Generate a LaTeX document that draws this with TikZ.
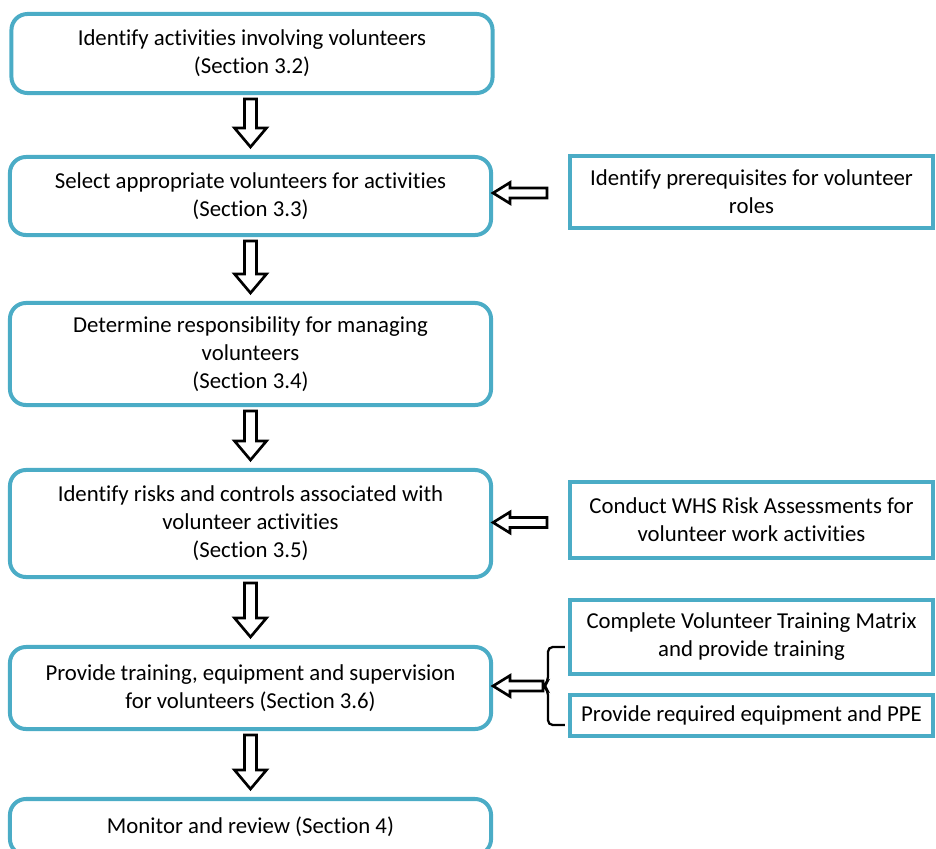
\documentclass[tikz,border=0pt]{standalone}
\usepackage{fontspec}
\setmainfont{Carlito}[Ligatures=NoCommon]
\usetikzlibrary{calc}
\definecolor{boxblue}{RGB}{75,172,198}
\tikzset{
	stepnode/.style = {align=center, inner sep=0pt, text centered, font=\fontsize{16.2}{19.9}\selectfont},
	mainbox/.style = {stepnode, draw=boxblue, line width=1mm, rounded corners=0.4cm, minimum width=12.025cm},
	sidebox/.style = {stepnode, draw=boxblue, line width=1mm, minimum width=9.075cm},
	blockarrow/.style = {draw=black, fill=white, line width=1.9pt, line join=miter},
	bracket/.style = {draw=black, line width=1.6pt, rounded corners=0.12cm}
}

\begin{document}
\begin{tikzpicture}[x=0.025cm, y=-0.025cm]
		\useasboundingbox (0,0) rectangle (936,849);
		% main steps
		\node [mainbox, minimum height=1.975cm] (b1) at (252,53.5) {Identify activities involving volunteers\\(Section 3.2)};
		\node [mainbox, minimum height=1.95cm] (b2) at (250.5,196) {Select appropriate volunteers for activities\\(Section 3.3)};
		\node [mainbox, minimum height=2.55cm] (b3) at (250.5,354) {Determine responsibility for managing\\volunteers\\(Section 3.4)};
		\node [mainbox, minimum height=2.675cm] (b4) at (250.5,523.5) {Identify risks and controls associated with\\volunteer activities\\(Section 3.5)};
		\node [mainbox, minimum height=2.05cm] (b5) at (250.5,688) {Provide training, equipment and supervision\\for volunteers (Section 3.6)};
		\node [mainbox, minimum height=1.4cm] (b6) at (250.5,827) {Monitor and review (Section 4)};
		% side tasks
		\node [sidebox, minimum height=1.8cm] (r1) at (751.5,192) {Identify prerequisites for volunteer\\roles};
		\node [sidebox, minimum height=1.9cm] (r2) at (751.5,520) {Conduct WHS Risk Assessments for\\volunteer work activities};
		\node [sidebox, minimum height=1.85cm] (r3) at (751.5,637) {Complete Volunteer Training Matrix\\and provide training};
		\node [sidebox, minimum height=1.025cm] (r4) at (751.5,715.5) {Provide required equipment and PPE};

		\foreach \a/\b in {b1/b2, b2/b3, b3/b4, b4/b5, b5/b6}
			\draw [blockarrow] ($(\b.north |- \a.south)+(-6,4)$) -- ($(\b.north)+(-6,-27)$) -- ($(\b.north)+(-16,-27)$)
				-- ($(\b.north)+(0,-8)$) -- ($(\b.north)+(16,-27)$) -- ($(\b.north)+(6,-27)$) -- ($(\b.north |- \a.south)+(6,4)$) -- cycle;

		% bracket round the two training tasks
		\coordinate (bt) at ($(r3.west)+(-3,10)$);
		\coordinate (bb) at ($(r4.west)+(-3,9.5)$);
		\coordinate (bm) at ($(bt)!0.5!(bb)+(-22,0)$);
		\draw [bracket] (bt) -- ($(bt -| bm)+(5,0)$) -- ($(bm)+(5,-4)$) -- (bm) -- ($(bm)+(5,4)$) -- ($(bb -| bm)+(5,0)$) -- (bb);

		\coordinate (t1) at ($(b2.east -| r1.west)+(-21,-3)$);
		\coordinate (t2) at ($(b4.east -| r2.west)+(-21,-1)$);
		\foreach \tail/\tip in {t1/b2, t2/b4, bm/b5}
			\draw [blockarrow] ($(\tail)+(0,-5)$) -- ($(\tip.east |- \tail)+(17,-5)$) -- ($(\tip.east |- \tail)+(17,-10.5)$)
				-- (\tip.east |- \tail) -- ($(\tip.east |- \tail)+(17,10.5)$) -- ($(\tip.east |- \tail)+(17,5)$) -- ($(\tail)+(0,5)$) -- cycle;
\end{tikzpicture}
\end{document}
